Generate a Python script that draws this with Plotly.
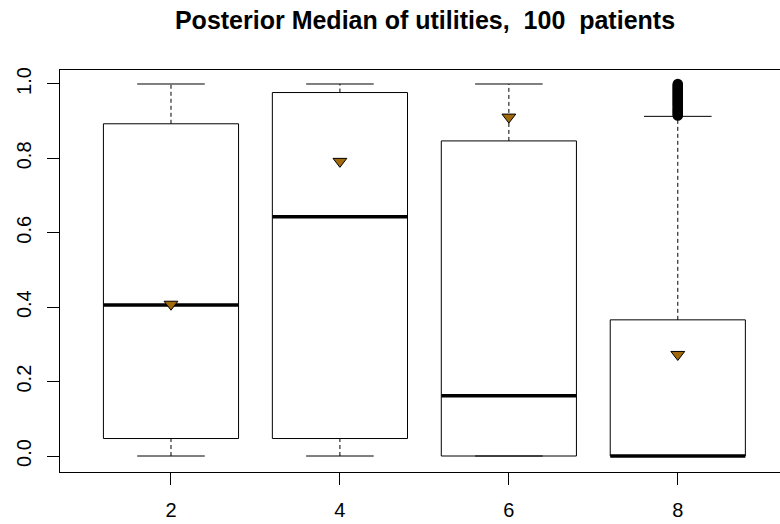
import plotly.graph_objects as go

categories = [2, 4, 6, 8]
lower_whisker = [0.0, 0.0, 0.0, 0.0]
q1 = [0.047, 0.047, 0.0, 0.0]
median = [0.406, 0.643, 0.162, 0.0]
q3 = [0.893, 0.977, 0.847, 0.366]
upper_whisker = [1.0, 1.0, 1.0, 0.913]
means = [0.408, 0.792, 0.911, 0.273]
outlier_y = [0.915, 0.918, 0.921, 0.924, 0.927, 0.93, 0.933, 0.936, 0.94, 0.943,
             0.946, 0.949, 0.952, 0.955, 0.958, 0.961, 0.964, 0.967, 0.97, 0.973,
             0.976, 0.979, 0.982, 0.985, 0.988, 0.991, 0.994, 0.997, 1.0]
outlier_x = [8] * len(outlier_y)
y_ticks = [0.0, 0.2, 0.4, 0.6, 0.8, 1.0]
title_text = "Posterior Median of utilities,\u00a0 100\u00a0 patients"

HALF = 0.8   # half box width (data units)
CAP = 0.4    # half staple width

fig = go.Figure()

# whiskers (dashed)
wx, wy = [], []
for c, lo, a, b, hi in zip(categories, lower_whisker, q1, q3, upper_whisker):
    wx += [c, c, None, c, c, None]
    wy += [lo, a, None, b, hi, None]
fig.add_trace(go.Scatter(x=wx, y=wy, mode="lines",
                         line=dict(color="black", width=1, dash="4px,3px"),
                         hoverinfo="skip", showlegend=False))

# staples
sx, sy = [], []
for c, lo, hi in zip(categories, lower_whisker, upper_whisker):
    sx += [c - CAP, c + CAP, None, c - CAP, c + CAP, None]
    sy += [lo, lo, None, hi, hi, None]
fig.add_trace(go.Scatter(x=sx, y=sy, mode="lines",
                         line=dict(color="black", width=1),
                         hoverinfo="skip", showlegend=False))

# boxes
bx, by = [], []
for c, a, b in zip(categories, q1, q3):
    bx += [c - HALF, c + HALF, c + HALF, c - HALF, c - HALF, None]
    by += [a, a, b, b, a, None]
fig.add_trace(go.Scatter(x=bx, y=by, mode="lines",
                         line=dict(color="black", width=1),
                         hoverinfo="skip", showlegend=False))

# medians
mx, my = [], []
for c, m in zip(categories, median):
    mx += [c - HALF, c + HALF, None]
    my += [m, m, None]
fig.add_trace(go.Scatter(x=mx, y=my, mode="lines",
                         line=dict(color="black", width=3.5),
                         hoverinfo="skip", showlegend=False))

# outliers
fig.add_trace(go.Scatter(x=outlier_x, y=outlier_y, mode="markers",
                         marker=dict(symbol="circle-open", size=8,
                                     color="black", line=dict(width=2.5)),
                         showlegend=False))

# means
fig.add_trace(go.Scatter(x=categories, y=means, mode="markers",
                         marker=dict(symbol="triangle-down", size=12,
                                     color="#A0690B",
                                     line=dict(color="black", width=1)),
                         showlegend=False))

W, H = 780, 524
fig.update_layout(
    width=W, height=H,
    margin=dict(l=60, r=0, t=70, b=52, autoexpand=False),
    paper_bgcolor="white", plot_bgcolor="white",
    font=dict(family="Liberation Sans, Arial, sans-serif", size=20, color="black"),
    title=dict(text="<b>" + title_text + "</b>", x=425 / W, xanchor="center",
               y=1 - 20 / H, yanchor="middle",
               font=dict(size=25, color="black")),
    xaxis=dict(range=[0.686, 9.21], tickvals=categories,
               ticktext=[str(c) for c in categories],
               showgrid=False, zeroline=False, automargin=False,
               showline=True, linecolor="black", linewidth=1, mirror=True,
               ticks="outside", ticklen=12, tickcolor="black", tickwidth=1,
               ticklabelstandoff=8,
               tickfont=dict(size=20)),
    yaxis=dict(range=[-0.043, 1.0376], tickvals=y_ticks,
               ticktext=[f"{v:.1f}" for v in y_ticks],
               tickangle=-90, automargin=False,
               showgrid=False, zeroline=False,
               showline=True, linecolor="black", linewidth=1,
               ticks="outside", ticklen=12, tickcolor="black", tickwidth=1,
               ticklabelstandoff=8,
               tickfont=dict(size=20)),
)

fig.write_html("out.html", config={"displayModeBar": False},
               post_script="document.body.style.margin='0';document.body.style.overflow='hidden';")
